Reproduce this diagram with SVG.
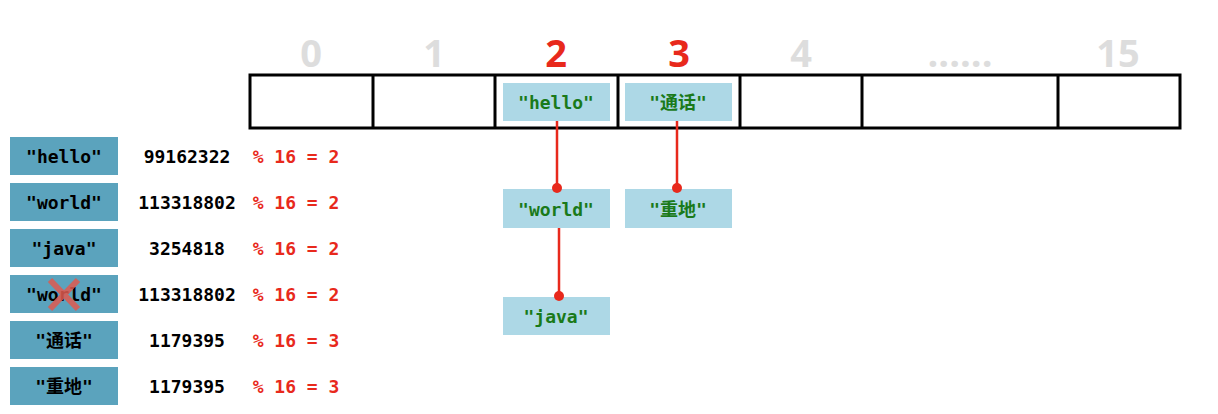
<svg xmlns="http://www.w3.org/2000/svg" width="1218" height="414" viewBox="0 0 1218 414">
<style>
.t{font-family:"DejaVu Sans Mono","Liberation Mono","Noto Sans CJK SC",monospace;font-weight:bold;font-size:18px;text-anchor:middle;dominant-baseline:central}
.k{fill:#5ba3bd}
.n{fill:#add8e6}
.g{fill:#1a7a1a}
.r{fill:#e8291c}
.h{font-family:"Open Sans","Liberation Sans",sans-serif;font-weight:bold;font-size:38px;text-anchor:middle}
.c{stroke:#e8291c;stroke-width:2.5}
</style>
<rect width="1218" height="414" fill="#fff"/>
<g id="headers">
<text class="h" x="311" y="67" fill="#ddd">0</text>
<text class="h" x="434" y="67" fill="#ddd">1</text>
<text class="h" x="556" y="67" fill="#e8291c">2</text>
<text class="h" x="679" y="67" fill="#e8291c">3</text>
<text class="h" x="801" y="67" fill="#ddd">4</text>
<text class="h" x="960" y="67" fill="#ddd">......</text>
<text class="h" x="1118" y="67" fill="#ddd">15</text>
</g>
<g id="table" fill="none" stroke="#000" stroke-width="3">
<rect x="250" y="75" width="930" height="53"/>
<path d="M373 75V128M495 75V128M618 75V128M740 75V128M862 75V128M1058 75V128"/>
</g>
<g id="keys">
<g id="k1"><rect class="k" x="10" y="137" width="108" height="38"/><text class="t" x="64" y="156">"hello"</text><text class="t" x="187" y="156">99162322</text><text class="t r" x="296" y="156">% 16 = 2</text></g>
<g id="k2"><rect class="k" x="10" y="183" width="108" height="38"/><text class="t" x="64" y="202">"world"</text><text class="t" x="187" y="202">113318802</text><text class="t r" x="296" y="202">% 16 = 2</text></g>
<g id="k3"><rect class="k" x="10" y="229" width="108" height="38"/><text class="t" x="64" y="248">"java"</text><text class="t" x="187" y="248">3254818</text><text class="t r" x="296" y="248">% 16 = 2</text></g>
<g id="k4"><rect class="k" x="10" y="275" width="108" height="38"/><text class="t" x="64" y="294">"world"</text><text class="t" x="187" y="294">113318802</text><text class="t r" x="296" y="294">% 16 = 2</text>
<path d="M50 280L78 309M78 280L50 309" stroke="#e05a4f" stroke-width="6" opacity="0.85"/></g>
<g id="k5"><rect class="k" x="10" y="321" width="108" height="38"/><text class="t" x="64" y="340">"通话"</text><text class="t" x="187" y="340">1179395</text><text class="t r" x="296" y="340">% 16 = 3</text></g>
<g id="k6"><rect class="k" x="10" y="367" width="108" height="38"/><text class="t" x="64" y="386">"重地"</text><text class="t" x="187" y="386">1179395</text><text class="t r" x="296" y="386">% 16 = 3</text></g>
</g>
<g id="n-hello"><rect class="n" x="503" y="83" width="107" height="38"/><text class="t g" x="556" y="102">"hello"</text></g>
<g id="n-tonghua"><rect class="n" x="625" y="83" width="107" height="38"/><text class="t g" x="678" y="102">"通话"</text></g>
<g id="n-world"><rect class="n" x="503" y="189" width="107" height="39"/><text class="t g" x="556" y="209">"world"</text></g>
<g id="n-zhongdi"><rect class="n" x="625" y="189" width="107" height="39"/><text class="t g" x="678" y="209">"重地"</text></g>
<g id="n-java"><rect class="n" x="503" y="297" width="107" height="38"/><text class="t g" x="556" y="316">"java"</text></g>
<g id="connectors">
<path class="c" d="M557 121V188M677 121V188M559 228V296"/>
<circle cx="557" cy="188" r="5" fill="#e8291c"/>
<circle cx="677" cy="188" r="5" fill="#e8291c"/>
<circle cx="559" cy="296" r="5" fill="#e8291c"/>
</g>
</svg>
